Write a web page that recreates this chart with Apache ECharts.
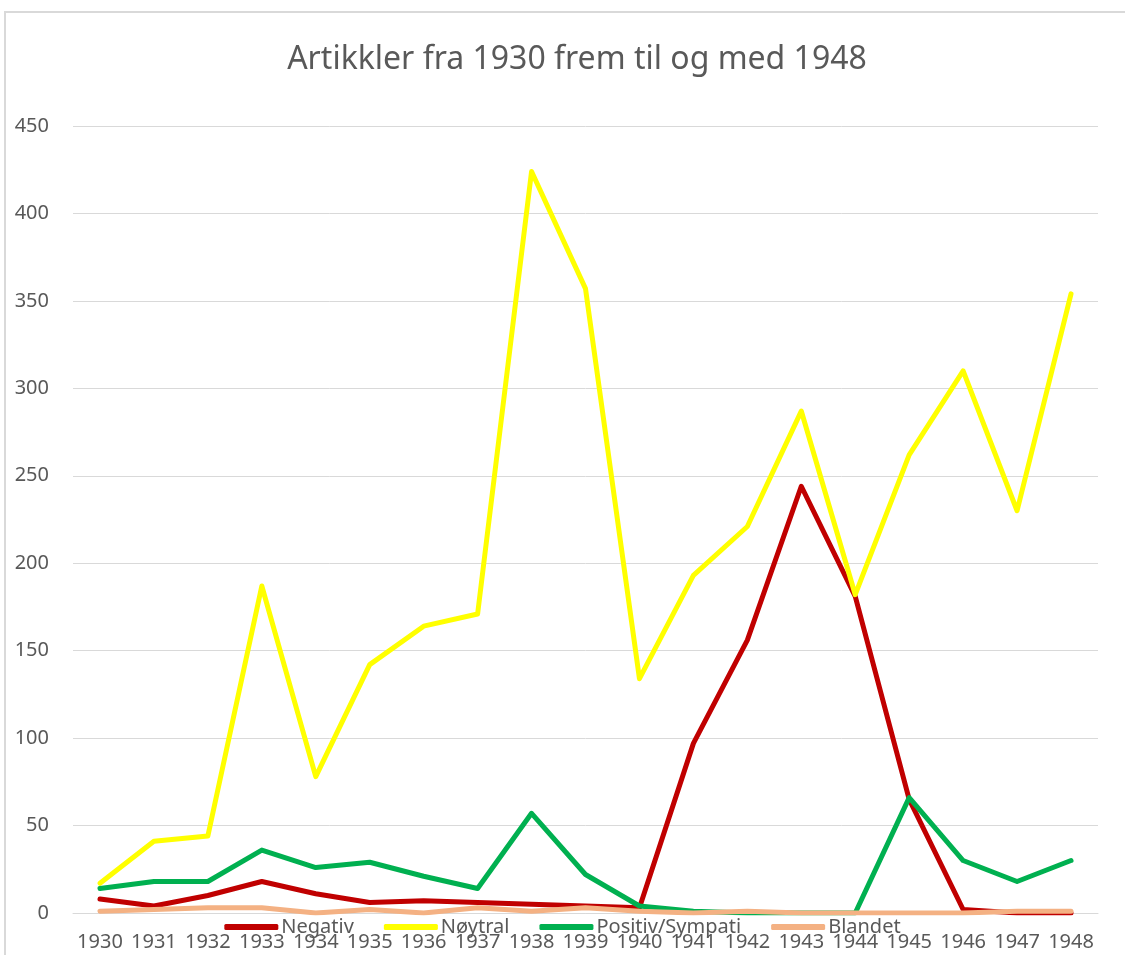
<!DOCTYPE html>
<html>
<head>
<meta charset="utf-8">
<script src="https://cdn.jsdelivr.net/npm/echarts@6/dist/echarts.min.js"></script>
<style>
  html, body { margin: 0; padding: 0; background: #fff; }
  #chart { width: 1125px; height: 955px; }
</style>
</head>
<body>
<div id="chart"></div>
<script>
const years = ['1930', '1931', '1932', '1933', '1934', '1935', '1936', '1937', '1938', '1939',
  '1940', '1941', '1942', '1943', '1944', '1945', '1946', '1947', '1948'];

const negativ = [8, 4, 10, 18, 11, 6, 7, 6, 5, 4, 3, 97, 156, 244, 181, 65, 2, 0, 0];
const noytral = [17, 41, 44, 187, 78, 142, 164, 171, 424, 357, 134, 193, 221, 287, 182, 262, 310, 230, 354];
const positiv = [14, 18, 18, 36, 26, 29, 21, 14, 57, 22, 4, 1, 0, 0, 0, 66, 30, 18, 30];
const blandet = [1, 2, 3, 3, 0, 2, 0, 3, 1, 3, 1, 0, 1, 0, 0, 0, 0, 1, 1];

const yTicks = [0, 50, 100, 150, 200, 250, 300, 350, 400, 450];

const chart = echarts.init(document.getElementById('chart'));

const lineSeries = (name, data, color) => ({
  name,
  type: 'line',
  data,
  symbol: 'none',
  lineStyle: { color, width: 5, cap: 'round', join: 'round' },
  itemStyle: { color },
});

const option = {
  animation: false,
  textStyle: { fontFamily: 'Noto Sans' },
  title: {
    text: 'Artikkler fra 1930 frem til og med 1948',
    left: 572,
    textAlign: 'center',
    top: 39,
    textStyle: { fontSize: 32, fontWeight: 'normal', color: '#595959' },
  },
  graphic: [{
    type: 'rect',
    shape: { x: 5, y: 12, width: 1160, height: 1000 },
    style: { fill: 'none', stroke: '#d9d9d9', lineWidth: 2 },
    silent: true,
  }],
  legend: {
    top: 912,
    left: 'center',
    itemWidth: 54,
    itemHeight: 6,
    itemGap: 30,
    icon: 'roundRect',
    textStyle: { fontSize: 20, color: '#595959', padding: [0, 0, 0, -2] },
    data: ['Negativ', 'Nøytral', 'Positiv/Sympati', 'Blandet'],
  },
  grid: { left: 73, right: 27, top: 126, bottom: 42 },
  xAxis: {
    type: 'category',
    data: years,
    boundaryGap: true,
    axisTick: { show: false },
    axisLine: { lineStyle: { color: '#d9d9d9', width: 1 } },
    axisLabel: { interval: 0, fontSize: 20, color: '#595959', margin: 19 },
  },
  yAxis: {
    type: 'value',
    min: yTicks[0],
    max: yTicks[yTicks.length - 1],
    interval: 50,
    axisLine: { show: false },
    axisTick: { show: false },
    splitLine: { lineStyle: { color: '#d9d9d9', width: 1 } },
    axisLabel: { fontSize: 20, color: '#595959', margin: 24 },
  },
  series: [
    lineSeries('Negativ', negativ, '#C00000'),
    lineSeries('Nøytral', noytral, '#FFFF00'),
    lineSeries('Positiv/Sympati', positiv, '#00B050'),
    lineSeries('Blandet', blandet, '#F4B183'),
  ],
};

chart.setOption(option);
</script>
</body>
</html>
